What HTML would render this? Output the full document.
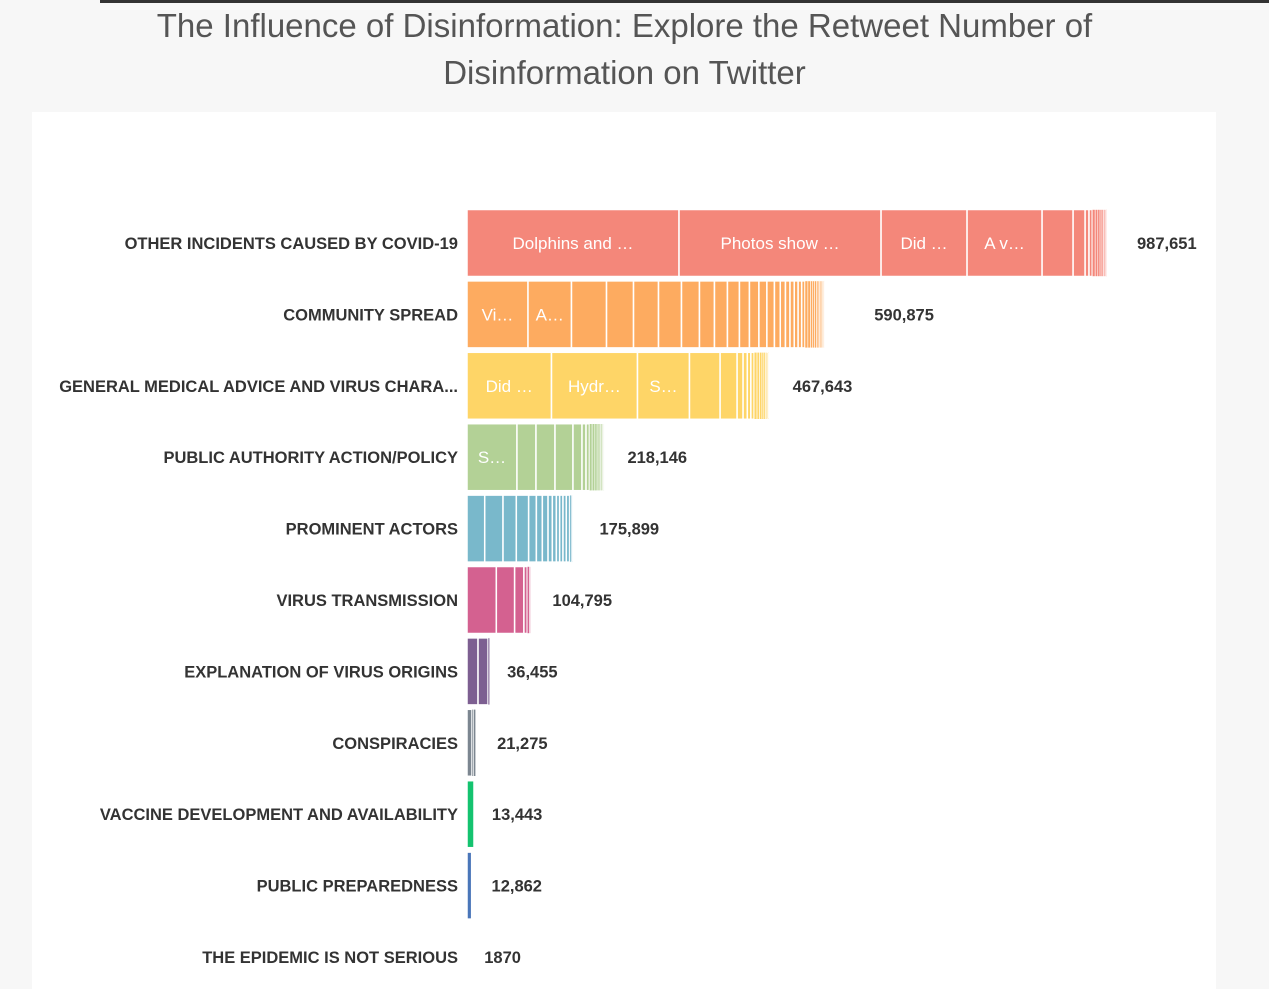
<!DOCTYPE html>
<html><head><meta charset="utf-8">
<style>
body{margin:0;background:#f7f7f7;width:1269px;height:989px;overflow:hidden;font-family:"Liberation Sans",sans-serif;}
#topline{position:absolute;left:100px;top:0;width:1169px;height:3px;background:#333;}
#title{position:absolute;left:0;top:2px;width:1249px;text-align:center;font-size:33px;font-weight:300;color:#555;line-height:47px;}
#panel{position:absolute;left:32px;top:112px;width:1184px;height:877px;background:#fff;}
svg{position:absolute;left:0;top:0;}
</style></head><body>
<div id="topline"></div>
<div id="title">The Influence of Disinformation: Explore the Retweet Number of<br>Disinformation on Twitter</div>
<div id="panel"></div>
<svg id="chart" width="1269" height="989"></svg>
<script>
const categories=["OTHER INCIDENTS CAUSED BY COVID-19","COMMUNITY SPREAD","GENERAL MEDICAL ADVICE AND VIRUS CHARA...","PUBLIC AUTHORITY ACTION/POLICY","PROMINENT ACTORS","VIRUS TRANSMISSION","EXPLANATION OF VIRUS ORIGINS","CONSPIRACIES","VACCINE DEVELOPMENT AND AVAILABILITY","PUBLIC PREPAREDNESS","THE EPIDEMIC IS NOT SERIOUS"];
const totals=[987651,590875,467643,218146,175899,104795,36455,21275,13443,12862,1870];
const totalLabels=["987,651","590,875","467,643","218,146","175,899","104,795","36,455","21,275","13,443","12,862","1870"];
const seg0=[326700,311300,132500,115600,47800,18500,6000,5000,4500,4000,3500,3000,2500,2000,1500,1000];
const seg1=[94000,67000,54000,41600,38500,35400,27700,23100,20000,18500,15400,14600,12300,11600,9000,8000,7000,6500,6000,5500,5000,4500,4000,3500,3000,2800,2500,2200,2000,1800,1500,1200,1000,800];
const seg2=[130200,132500,80100,47200,26200,9200,6500,5500,5000,4500,4000,3500,3000,2500,2000,1500,1000];
const seg3=[77000,29300,29300,27700,13900,6200,5200,4200,4200,3500,3000,2500,2000,1500,1000,800];
const seg4=[27300,28200,20500,19000,11900,9200,8800,6600,6200,5100,5100,5100,5100,2500,1500,1000];
const seg5=[45200,28200,14300,5100,3500,1500];
const seg6=[17000,15400,2600];
const seg7=[7700,2600,3100];
const seg8=[10800];
const seg9=[7200];
const seg10=[1870];
const segLabels=[["Dolphins and …","Photos show …","Did …","A v…"],["Vi…","A…"],["Did …","Hydr…","S…"],["S…"],[],[],[],[],[],[],[]];
const colors=["#f4877a","#fdab60","#fed567","#b3d196","#79b8cb","#d46190","#7d5f91","#7c8690","#14c36f","#4a76b9","#ffffff"];
const segs=[seg0,seg1,seg2,seg3,seg4,seg5,seg6,seg7,seg8,seg9,seg10];
const X0=467, PX=641/987651;
const x=v=>X0+v*PX;
const y=i=>243+i*71.4;
const BH=67;
const NS="http://www.w3.org/2000/svg";
const svg=document.getElementById('chart');
const maxT=Math.max(...totals);
function mk(t,a){const e=document.createElementNS(NS,t);for(const k in a)e.setAttribute(k,a[k]);svg.appendChild(e);return e;}
categories.forEach((c,i)=>{
  const cy=y(i);
  const lab=mk('text',{x:458,y:cy+6,'text-anchor':'end','font-size':16.5,'font-weight':'bold',fill:'#333'});
  lab.textContent=c;
  
  
  let acc=0;
  segs[i].forEach((v,j)=>{
    const x1=x(acc), x2=x(acc+v);
    const r=mk('rect',{x:x1,y:cy-BH/2,width:Math.max(x2-x1,0.5),height:BH,fill:colors[i],stroke:'#fff','stroke-width':(x2-x1)>3?1.5:0.6});
    
    
    if(segLabels[i][j]){
      const t=mk('text',{x:(x1+x2)/2,y:cy+6,'text-anchor':'middle','font-size':17,fill:'#fff'});
      t.textContent=segLabels[i][j];
      
      
    }
    acc+=v;
  });
  const tl=mk('text',{x:x(totals[i])+16+13*totals[i]/maxT,y:cy+6,'font-size':16.5,'font-weight':'bold',fill:'#333'});
  tl.textContent=totalLabels[i];
  
  
});
</script>
</body></html>
